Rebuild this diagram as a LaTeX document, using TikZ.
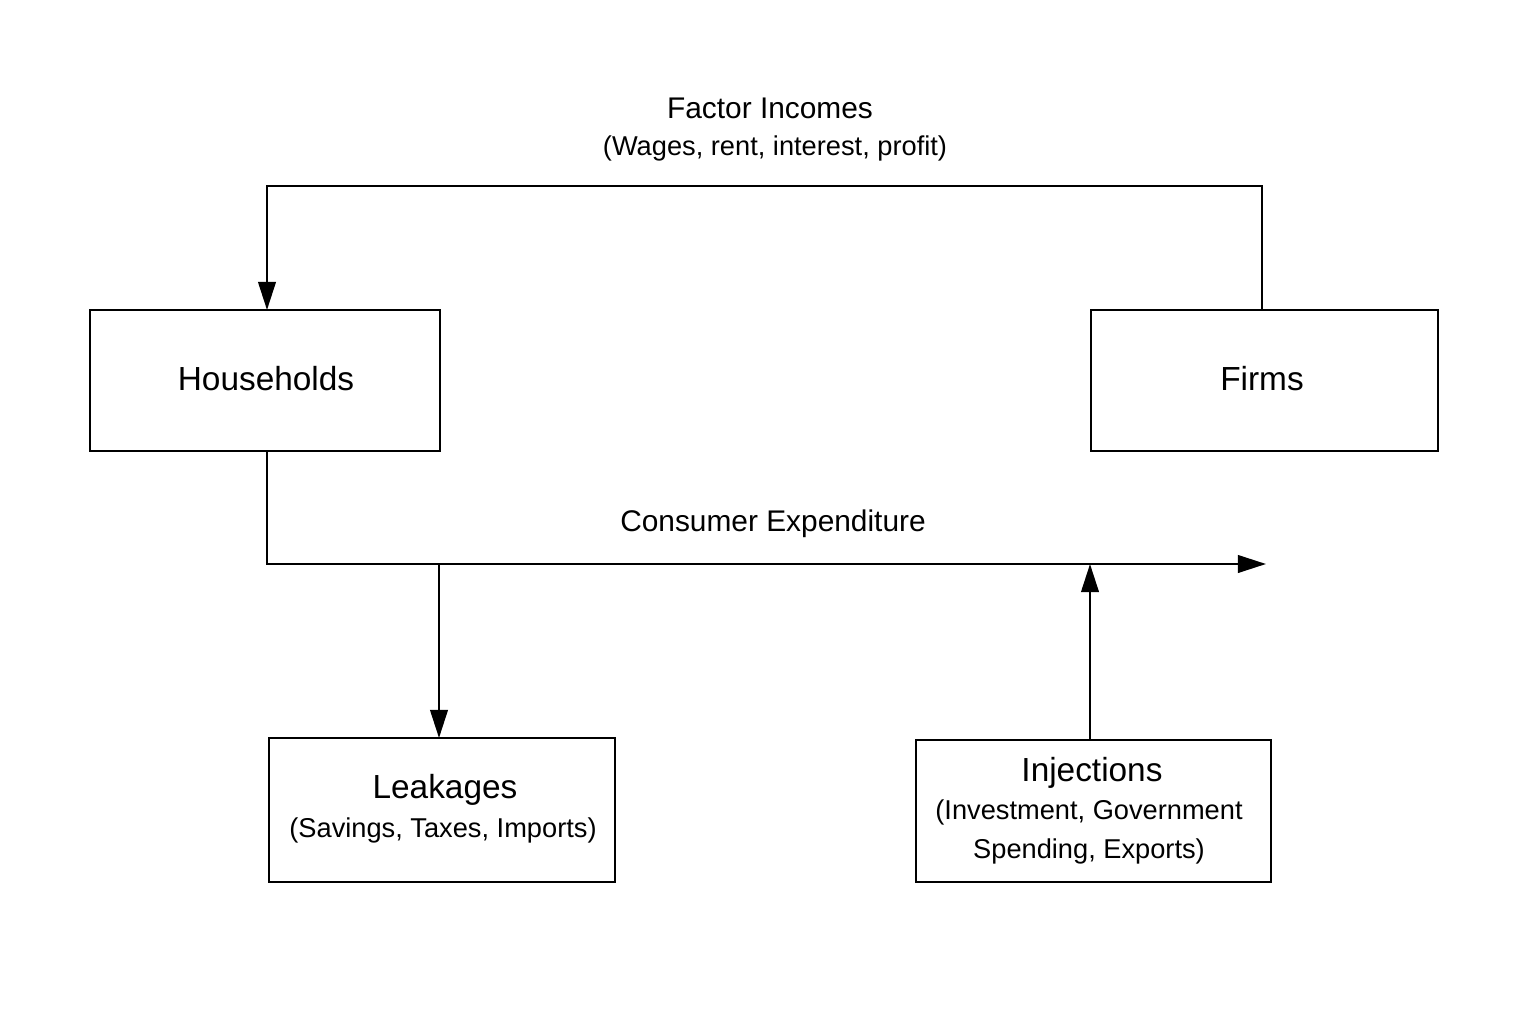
\documentclass[tikz,border=0pt]{standalone}
\usepackage{fontspec}
\setmainfont{Liberation Sans}
\usetikzlibrary{arrows.meta}
\begin{document}
\begin{tikzpicture}[x=0.02cm,y=-0.02cm,
  box/.style={draw,line width=1.3pt,inner sep=0},
  ln/.style={line width=1.3pt},
  arr/.style={ln,-{Triangle[length=16pt,width=10pt]}},
  big/.style={font=\fontsize{19}{22}\selectfont},
  mid/.style={font=\fontsize{17}{20}\selectfont},
  small/.style={font=\fontsize{15.5}{22}\selectfont,align=center}]
\useasboundingbox (0,0) rectangle (1536,1024);
\draw[box] (90,310) rectangle (440,451);
\node[big] (hh) at (266,379) {Households};
\draw[box] (1091,310) rectangle (1438,451);
\node[big] (firms) at (1262,379) {Firms};
\draw[box] (269,738) rectangle (615,882);
\node[big] (lk) at (445,790) {Leakages};
\node[small] (lks) at (443,830) {(Savings, Taxes, Imports)};
\draw[box] (916,740) rectangle (1271,882);
\node[big] (inj) at (1092,773) {Injections};
\node[small] (injs) at (1089,832) {(Investment, Government\\Spending, Exports)};
\node[mid] (fi) at (770,108) {Factor Incomes};
\node[small] (fis) at (775,148) {(Wages, rent, interest, profit)};
\node[mid] (ce) at (773,524) {Consumer Expenditure};
\coordinate (ft) at (1262,310);
\coordinate (hht) at (267,310);
\coordinate (hhb) at (267,451);
\coordinate (br) at (439,564);
\coordinate (lt) at (439,738);
\coordinate (end) at (1266,564);
\coordinate (it) at (1090,740);
\coordinate (ij) at (1090,564);
\draw[arr] (ft) -- (1262,186) -- (267,186) -- (hht);
\draw[arr] (hhb) -- (267,564) -- (end);
\draw[arr] (br) -- (lt);
\draw[arr] (it) -- (ij);
\end{tikzpicture}
\end{document}
